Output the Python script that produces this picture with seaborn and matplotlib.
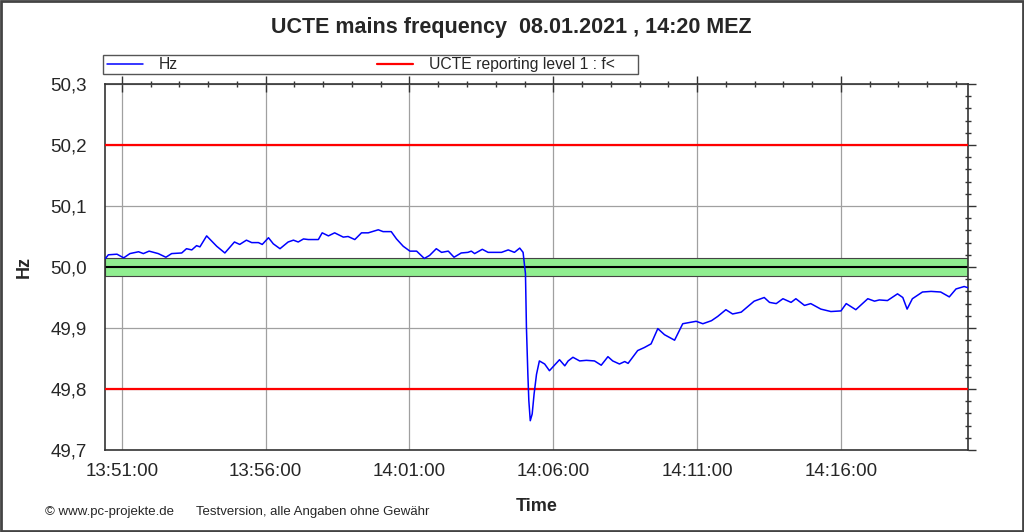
import pandas as pd
import matplotlib
matplotlib.use("Agg")
import matplotlib.pyplot as plt
import matplotlib.dates as mdates
from matplotlib.ticker import MultipleLocator, FuncFormatter
from matplotlib.lines import Line2D
from matplotlib.patches import Rectangle
import seaborn as sns

# seconds after 13:50:00 on 08.01.2021
t_sec = [26, 32, 50, 64, 77, 95, 105, 117, 136, 152, 164, 185, 195, 206, 216, 223,
         237, 258, 275, 295, 306, 320, 331, 345, 353, 366, 376, 390, 407, 418, 428,
         439, 449, 470, 478, 491, 504, 522, 532, 546, 560, 574, 595, 605, 622, 633,
         647, 661, 675, 691, 702, 716, 727, 741, 753, 768, 782, 789, 796, 812, 824,
         838, 852, 866, 879, 890, 897, 902, 904, 907, 909, 912, 916, 920, 925, 931,
         942, 952, 966, 973, 984, 991, 1001, 1015, 1029, 1046, 1060, 1074, 1084,
         1098, 1109, 1116, 1136, 1150, 1164, 1178, 1192, 1213, 1230, 1244, 1258,
         1272, 1290, 1303, 1320, 1334, 1352, 1379, 1400, 1411, 1425, 1439, 1456,
         1466, 1484, 1497, 1518, 1539, 1560, 1571, 1591, 1616, 1630, 1640, 1657,
         1678, 1689, 1698, 1709, 1730, 1748, 1768, 1786, 1800, 1817, 1825]

hz = [50.014, 50.020, 50.021, 50.015, 50.022, 50.025, 50.022, 50.026, 50.022, 50.016,
      50.022, 50.023, 50.030, 50.028, 50.035, 50.033, 50.051, 50.034, 50.023, 50.041,
      50.037, 50.044, 50.040, 50.040, 50.037, 50.048, 50.038, 50.030, 50.041, 50.044,
      50.041, 50.046, 50.045, 50.045, 50.056, 50.051, 50.056, 50.049, 50.050, 50.045,
      50.056, 50.056, 50.061, 50.058, 50.058, 50.046, 50.034, 50.026, 50.026, 50.014,
      50.019, 50.030, 50.024, 50.026, 50.016, 50.023, 50.024, 50.026, 50.022, 50.029,
      50.024, 50.024, 50.024, 50.028, 50.024, 50.031, 50.024, 49.989, 49.901, 49.824,
      49.781, 49.748, 49.759, 49.792, 49.824, 49.846, 49.841, 49.830, 49.842, 49.848,
      49.838, 49.846, 49.852, 49.846, 49.847, 49.846, 49.839, 49.853, 49.846, 49.841,
      49.845, 49.842, 49.863, 49.868, 49.874, 49.899, 49.889, 49.880, 49.907, 49.909,
      49.911, 49.907, 49.912, 49.919, 49.930, 49.923, 49.926, 49.944, 49.950, 49.942,
      49.940, 49.948, 49.942, 49.948, 49.937, 49.940, 49.931, 49.927, 49.928, 49.940,
      49.930, 49.948, 49.944, 49.946, 49.945, 49.956, 49.950, 49.931, 49.948, 49.959,
      49.960, 49.959, 49.951, 49.964, 49.968, 49.966]

report_levels = [50.2, 49.8]
band_low, band_high, nominal = 49.985, 50.015, 50.0
y_ticks = [49.7, 49.8, 49.9, 50.0, 50.1, 50.2, 50.3]

start = pd.Timestamp("2021-01-08 13:50:00")
df = pd.DataFrame({"time": start + pd.to_timedelta(t_sec, unit="s"), "Hz": hz})

sns.set_style("white")
plt.rcParams["font.family"] = ["Liberation Sans", "DejaVu Sans"]

fig = plt.figure(figsize=(10.24, 5.32), dpi=100)
ax = fig.add_axes([105 / 1024, 1 - 450 / 532, 863 / 1024, 366 / 532])

# green tolerance band
ax.axhspan(band_low, band_high, facecolor="#90ee90", edgecolor="#444444", lw=0.8, zorder=1)
ax.axhline(nominal, color="black", lw=1.5, zorder=2)

ax.grid(True, which="major", color="#a0a0a0", lw=0.9, zorder=0)
ax.set_axisbelow(True)

for lvl in report_levels:
    ax.axhline(lvl, color="#ff0000", lw=1.6, zorder=3)

sns.lineplot(data=df, x="time", y="Hz", ax=ax, color="#0000ff", lw=1.1,
             legend=False, zorder=4)

ax.set_xlim(start + pd.Timedelta(seconds=25), start + pd.Timedelta(seconds=1825))
ax.set_ylim(49.7, 50.3)
ax.set_yticks(y_ticks)
ax.yaxis.set_minor_locator(MultipleLocator(0.02))
ax.yaxis.set_major_formatter(FuncFormatter(lambda v, p: f"{v:.1f}".replace(".", ",")))

ax.xaxis.set_major_locator(mdates.MinuteLocator(byminute=range(1, 60, 5)))
ax.xaxis.set_minor_locator(mdates.MinuteLocator())
ax.xaxis.set_major_formatter(mdates.DateFormatter("%H:%M:%S"))

ax.tick_params(axis="x", which="major", direction="inout", length=12, width=1,
               top=True, labelsize=13.5, pad=3, color="#333333")
ax.tick_params(axis="x", which="minor", direction="inout", length=5, width=1,
               top=True, color="#333333")
ax.tick_params(axis="y", which="major", direction="out", length=6, width=1,
               right=True, labelsize=13.5, pad=7, color="#333333")
ax.tick_params(axis="y", which="minor", direction="inout", length=5, width=1,
               right=True, color="#333333")

for s in ax.spines.values():
    s.set_color("#333333")
    s.set_linewidth(1.2)

ax.set_xlabel("Time", fontsize=13, fontweight="bold")
ax.set_ylabel("Hz", fontsize=13, fontweight="bold")
ax.xaxis.set_label_coords(0.5, -0.13)
ax.yaxis.set_label_coords(-0.084, 0.5)

fig.text(0.4995, 1 - 27 / 532, "UCTE mains frequency  08.01.2021 , 14:20 MEZ",
         ha="center", va="center", fontsize=15.5, fontweight="bold")

# legend box above the plot
handles = [Line2D([], [], color="#0000ff", lw=1.1),
           Line2D([], [], color="#ff0000", lw=1.6)]
labels = ["Hz", "UCTE reporting level 1 : f<"]
fig.legend(handles, labels, loc="center left", ncol=2,
           bbox_to_anchor=(107 / 1024, 1 - 64.5 / 532),
           fontsize=11.3, frameon=False, handlelength=2.3, borderaxespad=0,
           borderpad=0, handletextpad=1.0, columnspacing=12.7)
fig.patches.append(Rectangle((103 / 1024, 1 - 74 / 532), 535 / 1024, 19 / 532,
                             transform=fig.transFigure, fill=False,
                             edgecolor="#555555", lw=1.0))

fig.text(45 / 1024, 1 - 512 / 532, "\u00a9 www.pc-projekte.de", fontsize=9.5, va="center")
fig.text(196 / 1024, 1 - 512 / 532, "Testversion, alle Angaben ohne Gew\u00e4hr",
         fontsize=9.5, va="center")

fig.patches.append(Rectangle((0.001, 0.002), 0.998, 0.996, transform=fig.transFigure,
                             fill=False, edgecolor="#444444", lw=2))

fig.savefig("out.png", dpi=100)
